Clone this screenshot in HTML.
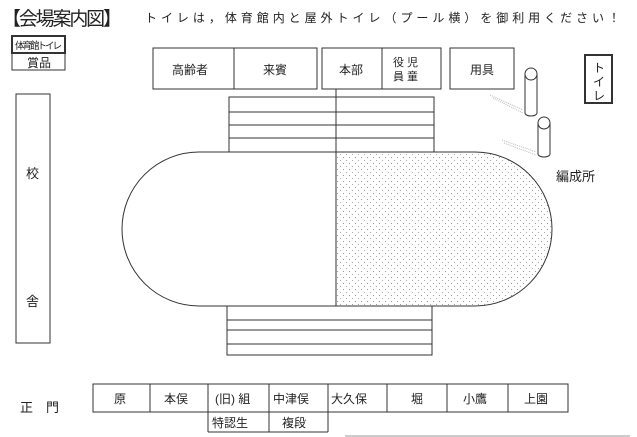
<!DOCTYPE html>
<html><head><meta charset="utf-8"><style>
html,body{margin:0;padding:0;background:#fff;width:637px;height:437px;overflow:hidden}
svg{display:block}
text{font-family:"Liberation Sans","Noto Sans CJK JP",sans-serif;fill:#222}
</style></head><body>
<svg width="637" height="437" viewBox="0 0 637 437" xmlns="http://www.w3.org/2000/svg">
<defs>
<pattern id="dots" width="6" height="6" patternUnits="userSpaceOnUse">
<rect x="1" y="1" width="1" height="1" fill="#999"/><rect x="4" y="4" width="1" height="1" fill="#aaa"/>
</pattern>
</defs>
<g stroke="#333" fill="none" stroke-width="1">
<text x="2" y="25" font-size="19" stroke="none" textLength="120">【会場案内図】</text>
<text x="145" y="22" font-size="12" stroke="none" textLength="475">トイレは，体育館内と屋外トイレ（プール横）を御利用ください！</text>
<rect x="12" y="36" width="53" height="17" stroke-width="2"/>
<text x="15" y="49" font-size="9.5" stroke="none" textLength="47">体育館トイレ</text>
<rect x="12" y="53" width="53" height="17"/>
<text x="27" y="67" font-size="12" stroke="none">賞品</text>
<rect x="16" y="94" width="34" height="249"/>
<text x="26" y="178" font-size="13" stroke="none">校</text>
<text x="26" y="306" font-size="13" stroke="none">舎</text>
<rect x="153" y="48" width="164" height="41"/><line x1="234" y1="48" x2="234" y2="89"/>
<text x="172" y="74" font-size="12" stroke="none">高齢者</text>
<text x="263" y="74" font-size="12" stroke="none">来賓</text>
<rect x="322" y="48" width="119" height="41"/><line x1="382" y1="48" x2="382" y2="89"/>
<text x="339" y="74" font-size="12" stroke="none">本部</text>
<text x="393" y="66" font-size="11" stroke="none">役 児</text>
<text x="393" y="80" font-size="11" stroke="none">員 童</text>
<rect x="450" y="48" width="64" height="41"/>
<text x="470" y="74" font-size="12" stroke="none">用具</text>
<rect x="585" y="55" width="27" height="48" stroke-width="2"/>
<text x="593" y="72" font-size="12" stroke="none">ト</text>
<text x="593" y="86" font-size="12" stroke="none">イ</text>
<text x="593" y="100" font-size="12" stroke="none">レ</text>
<path d="M525 74 V113 A6 3 0 0 0 537 113 V74" /><ellipse cx="531" cy="74" rx="6" ry="6"/>
<path d="M538 123 V154 A6 3 0 0 0 550 154 V123"/><ellipse cx="544" cy="123" rx="6" ry="6"/>
<g stroke="#bbb" stroke-dasharray="1 1"><line x1="490" y1="95" x2="523" y2="110"/><line x1="493" y1="98" x2="523" y2="113"/><line x1="502" y1="140" x2="536" y2="152"/><line x1="504" y1="143" x2="536" y2="155"/></g>
<text x="556" y="181" font-size="13" stroke="none">編成所</text>
<path d="M336 152 H475 A77 77 0 0 1 475 306 H336 Z" fill="url(#dots)" stroke="none"/>
<rect x="122" y="152" width="430" height="154" rx="77" ry="77"/>
<line x1="336" y1="89" x2="336" y2="306"/>
<rect x="229" y="97" width="205" height="55"/>
<line x1="229" y1="112" x2="434" y2="112"/><line x1="229" y1="125" x2="434" y2="125"/><line x1="229" y1="138" x2="434" y2="138"/>
<rect x="227" y="306" width="205" height="49"/>
<line x1="227" y1="320" x2="432" y2="320"/><line x1="227" y1="330" x2="432" y2="330"/><line x1="227" y1="344" x2="432" y2="344"/>
<text x="20" y="412" font-size="13" stroke="none">正　門</text>
<rect x="93" y="384" width="475" height="28"/>
<line x1="150" y1="384" x2="150" y2="412"/><line x1="208" y1="384" x2="208" y2="432"/><line x1="269" y1="384" x2="269" y2="432"/><line x1="328" y1="384" x2="328" y2="432"/><line x1="387" y1="384" x2="387" y2="412"/><line x1="447" y1="384" x2="447" y2="412"/><line x1="508" y1="384" x2="508" y2="412"/>
<line x1="208" y1="432" x2="328" y2="432"/>
<g font-size="12" stroke="none">
<text x="114" y="403">原</text><text x="164" y="403">本俣</text><text x="215" y="403">(旧) 組</text><text x="273" y="403">中津俣</text><text x="331" y="403">大久保</text><text x="411" y="403">堀</text><text x="463" y="403">小鷹</text><text x="524" y="403">上園</text>
<text x="212" y="427">特認生</text><text x="282" y="427">複段</text>
</g>
<line x1="345" y1="436" x2="630" y2="436" stroke="#999"/>
</g>
</svg>
</body></html>
